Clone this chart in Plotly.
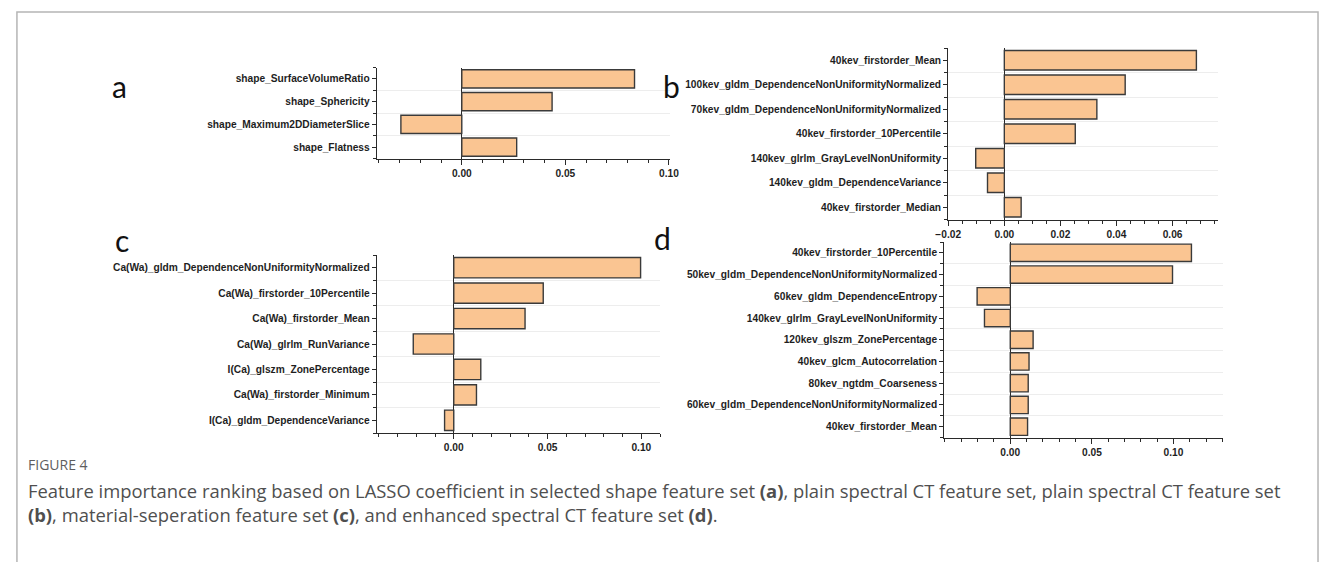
import plotly.graph_objects as go

W, H = 1328, 562

# ---------------- data ----------------
a_features = ["shape_SurfaceVolumeRatio", "shape_Sphericity",
              "shape_Maximum2DDiameterSlice", "shape_Flatness"]
a_values = [0.0834, 0.0436, -0.0294, 0.0265]

b_features = ["40kev_firstorder_Mean",
              "100kev_gldm_DependenceNonUniformityNormalized",
              "70kev_gldm_DependenceNonUniformityNormalized",
              "40kev_firstorder_10Percentile",
              "140kev_glrlm_GrayLevelNonUniformity",
              "140kev_gldm_DependenceVariance",
              "40kev_firstorder_Median"]
b_values = [0.0685, 0.0431, 0.0330, 0.0253, -0.0102, -0.0060, 0.0060]

c_features = ["Ca(Wa)_gldm_DependenceNonUniformityNormalized",
              "Ca(Wa)_firstorder_10Percentile",
              "Ca(Wa)_firstorder_Mean",
              "Ca(Wa)_glrlm_RunVariance",
              "I(Ca)_glszm_ZonePercentage",
              "Ca(Wa)_firstorder_Minimum",
              "I(Ca)_gldm_DependenceVariance"]
c_values = [0.0996, 0.0477, 0.0380, -0.0216, 0.0144, 0.0121, -0.0049]

d_features = ["40kev_firstorder_10Percentile",
              "50kev_gldm_DependenceNonUniformityNormalized",
              "60kev_gldm_DependenceEntropy",
              "140kev_glrlm_GrayLevelNonUniformity",
              "120kev_glszm_ZonePercentage",
              "40kev_glcm_Autocorrelation",
              "80kev_ngtdm_Coarseness",
              "60kev_gldm_DependenceNonUniformityNormalized",
              "40kev_firstorder_Mean"]
d_values = [0.111, 0.0994, -0.0203, -0.0158, 0.0140, 0.0115, 0.0110, 0.0110, 0.0106]

panel_letters = ["a", "b", "c", "d"]
caption_title = "FIGURE 4"
caption_line1 = ("Feature importance ranking based on LASSO coefficient in selected shape feature set "
                 "<b>(a)</b>, plain spectral CT feature set, plain spectral CT feature set")
caption_line2 = ("<b>(b)</b>, material-seperation feature set <b>(c)</b>, and enhanced spectral CT "
                 "feature set <b>(d)</b>.")

# ---------------- layout (pixels) ----------------
panels = [
    dict(f=a_features, v=a_values, px=(370, 668), py=(67.5, 158.5), xr=(-0.041, 0.1005),
         dt=0.05, mdt=0.01, lpos=(108, 86)),
    dict(f=b_features, v=b_values, px=(951, 1225), py=(48, 219.5), xr=(-0.020, 0.0761),
         dt=0.02, mdt=0.005, lpos=(670, 86)),
    dict(f=c_features, v=c_values, px=(370, 658), py=(255, 433), xr=(-0.041, 0.110),
         dt=0.05, mdt=0.01, lpos=(111, 240)),
    dict(f=d_features, v=d_values, px=(947, 1230), py=(242, 437.5), xr=(-0.0404, 0.1301),
         dt=0.05, mdt=0.01, lpos=(660, 238)),
]

BAR_FILL = "#FAC592"
BAR_LINE = "#3a3a3a"
AX = "#2a2a2a"
TICKFONT = dict(family="Liberation Sans, Arial, sans-serif", size=10.2, color="#1e1e1e",
                weight="bold")

fig = go.Figure()
layout_updates = {}
annotations = []
for i, p in enumerate(panels):
    s = "" if i == 0 else str(i + 1)
    n = len(p["f"])
    ypos = list(range(n - 1, -1, -1))
    fig.add_trace(go.Bar(
        x=p["v"], y=ypos, orientation="h", width=0.8,
        marker=dict(color=BAR_FILL, line=dict(color=BAR_LINE, width=1.4)),
        xaxis="x" + s, yaxis="y" + s, showlegend=False, hoverinfo="skip"))
    layout_updates["xaxis" + s] = dict(
        domain=[p["px"][0] / W, p["px"][1] / W], anchor="y" + s,
        range=list(p["xr"]), showline=True, linecolor=AX, linewidth=1.3,
        ticks="outside", ticklen=5, tickwidth=1.2, tickcolor=AX,
        dtick=p["dt"], tick0=0, tickformat=".2f", tickfont=TICKFONT,
        showgrid=False, zeroline=True, zerolinecolor=AX, zerolinewidth=1.3,
        minor=dict(dtick=p["mdt"], tick0=0, ticks="outside", ticklen=3,
                   tickcolor=AX, tickwidth=1, showgrid=False),
        fixedrange=True)
    layout_updates["yaxis" + s] = dict(
        domain=[1 - p["py"][1] / H, 1 - p["py"][0] / H], anchor="x" + s,
        range=[-0.5, n - 0.5], tickmode="array", tickvals=ypos, ticktext=p["f"],
        showline=True, linecolor=AX, linewidth=1.3,
        ticks="outside", ticklen=4, tickwidth=1.2, tickcolor=AX,
        tickfont=TICKFONT, showgrid=False, zeroline=False,
        minor=dict(tick0=0.5, dtick=1, ticks="outside", ticklen=3, tickcolor=AX,
                   tickwidth=1, showgrid=True, gridcolor="#ededed", gridwidth=1),
        fixedrange=True)
    annotations.append(dict(
        text=panel_letters[i], x=p["lpos"][0] / W, y=1 - p["lpos"][1] / H,
        xref="paper", yref="paper", xanchor="center", yanchor="middle",
        showarrow=False, font=dict(family="Lato, Open Sans, sans-serif", size=30, color="#111111")))

annotations.append(dict(
    text=caption_title, x=13 / W, y=1 - 465 / H, xref="paper", yref="paper",
    xanchor="left", yanchor="middle", showarrow=False,
    font=dict(family="Open Sans, sans-serif", size=14, color="#5e5e5e")))
for txt, yy in [(caption_line1, 490), (caption_line2, 514)]:
    annotations.append(dict(
        text=txt, x=13 / W, y=1 - yy / H, xref="paper", yref="paper",
        xanchor="left", yanchor="middle", showarrow=False, align="left",
        font=dict(family="Open Sans, sans-serif", size=18.4, color="#4f4f4f")))

shapes = [dict(type="path", xref="paper", yref="paper",
               path=f"M {4/W} 0 L {4/W} {1-12/H} L {1327/W} {1-12/H} L {1327/W} 0",
               line=dict(color="#b5b5b5", width=1.5))]

fig.update_layout(
    width=W, height=H, margin=dict(l=0, r=0, t=0, b=0),
    paper_bgcolor="white", plot_bgcolor="white",
    bargap=0.2, annotations=annotations, shapes=shapes,
    **layout_updates)

fig.write_html("out.html", config={"displayModeBar": False},
               post_script="document.body.style.margin='0';")
